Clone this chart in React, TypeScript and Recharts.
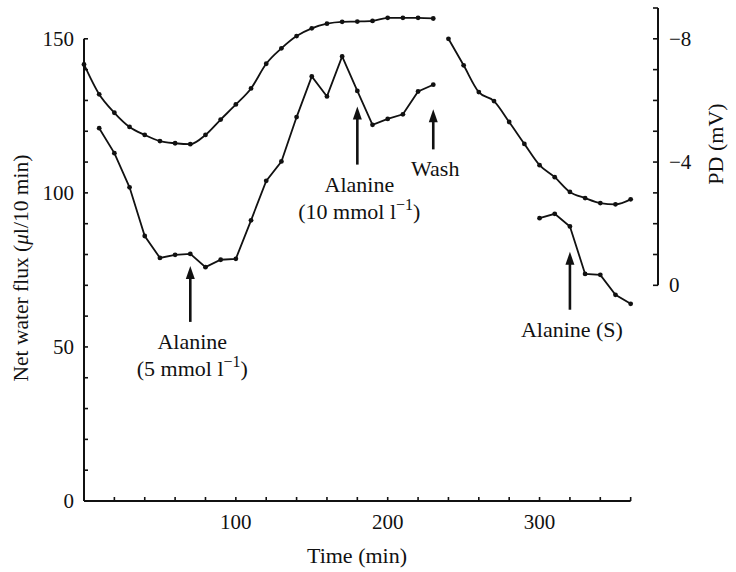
import React from "react";
import {
  ComposedChart,
  Line,
  XAxis,
  YAxis,
  ReferenceLine,
  ReferenceDot,
} from "recharts";

const SERIF = "'Liberation Serif', 'Times New Roman', serif";
const INK = "#111";

// transepithelial PD (mV), before and after the wash
const pdTimeA = [0, 10, 20, 30, 40, 50, 60, 70, 80, 90, 100, 110, 120, 130, 140, 150, 160, 170, 180, 190, 200, 210, 220, 230];
const pdValA = [-7.17, -6.2, -5.6, -5.14, -4.88, -4.68, -4.61, -4.58, -4.88, -5.38, -5.87, -6.39, -7.19, -7.69, -8.09, -8.34, -8.49, -8.55, -8.56, -8.58, -8.68, -8.68, -8.68, -8.66];
const pdTimeB = [240, 250, 260, 270, 280, 290, 300, 310, 320, 330, 340, 350, 360];
const pdValB = [-8.0, -7.14, -6.27, -5.98, -5.3, -4.59, -3.9, -3.51, -3.03, -2.83, -2.67, -2.63, -2.79];

// net water flux (ul / 10 min)
const fluxTimeA = [10, 20, 30, 40, 50, 60, 70, 80, 90, 100, 110, 120, 130, 140, 150, 160, 170, 180, 190, 200, 210, 220, 230];
const fluxValA = [121.0, 112.9, 101.8, 86.0, 78.9, 79.9, 80.2, 75.9, 78.3, 78.6, 91.1, 103.9, 110.2, 124.6, 137.8, 131.3, 144.3, 133.1, 122.1, 124.0, 125.5, 132.9, 135.1];
const fluxTimeB = [300, 310, 320, 330, 340, 350, 360];
const fluxValB = [91.8, 93.2, 89.1, 73.7, 73.4, 66.9, 64.0];

const xTicks = [0, 20, 40, 60, 80, 100, 120, 140, 160, 180, 200, 220, 240, 260, 280, 300, 320, 340, 360];
const xLabels = [100, 200, 300];
const fluxTicks = [0, 10, 20, 30, 40, 50, 60, 70, 80, 90, 100, 110, 120, 130, 140, 150];
const fluxLabels = [0, 50, 100, 150];
const pdTicks = [-9, -8, -7, -6, -5, -4, -3, -2, -1, 0];
const pdLabels = [-8, -4, 0];

// arrows: time, flux value at the arrow tip, label lines
const notes = [
  { t: 70, tip: 76.3, len: 56, lines: ["Alanine", "(5 mmol l|−1|)"] },
  { t: 180, tip: 128.0, len: 58, lines: ["Alanine", "(10 mmol l|−1|)"] },
  { t: 230, tip: 127.1, len: 40, lines: ["Wash"] },
  { t: 320, tip: 80.9, len: 58, lines: ["Alanine (S)"] },
];

const zip = (ts: number[], vs: number[]) => ts.map((t, i) => ({ t, v: vs[i] }));
const pdA = zip(pdTimeA, pdValA);
const pdB = zip(pdTimeB, pdValB);
const fluxA = zip(fluxTimeA, fluxValA);
const fluxB = zip(fluxTimeB, fluxValB);

const minus = (n: number) => (n < 0 ? "\u2212" + Math.abs(n) : String(n));

function NoteText({ x, y, text }: { x: number; y: number; text: string }) {
  const parts = text.split("|");
  return (
    <text x={x} y={y} textAnchor="middle" fontFamily={SERIF} fontSize={22} fill={INK}>
      {parts.length === 1 ? (
        text
      ) : (
        <>
          <tspan>{parts[0]}</tspan>
          <tspan dy={-9} fontSize={16}>{parts[1]}</tspan>
          <tspan dy={9}>{parts[2]}</tspan>
        </>
      )}
    </text>
  );
}

function arrowShape(len: number, lines: string[]) {
  return (p: any) => {
    const { cx, cy } = p;
    return (
      <g>
        <polygon points={`${cx},${cy} ${cx - 4.5},${cy + 13} ${cx + 4.5},${cy + 13}`} fill={INK} />
        <line x1={cx} y1={cy + 10} x2={cx} y2={cy + len} stroke={INK} strokeWidth={2.6} />
        {lines.map((s, i) => (
          <NoteText key={i} x={cx + 2} y={cy + len + 27 + i * 27} text={s} />
        ))}
      </g>
    );
  };
}

const XTick = (p: any) => {
  const axisY = p.y;
  const v = p.payload.value;
  return (
    <g>
      <line x1={p.x} x2={p.x} y1={axisY} y2={axisY - 4} stroke={INK} strokeWidth={1.6} />
      {xLabels.includes(v) && (
        <text x={p.x} y={axisY + 28} textAnchor="middle" fontFamily={SERIF} fontSize={21} fill={INK}>
          {v}
        </text>
      )}
    </g>
  );
};

const LeftTick = (p: any) => {
  const axisX = p.x + 10;
  const v = p.payload.value;
  return (
    <g>
      <line x1={axisX} x2={axisX + 4} y1={p.y} y2={p.y} stroke={INK} strokeWidth={1.6} />
      {fluxLabels.includes(v) && (
        <text x={axisX - 10} y={p.y + 7} textAnchor="end" fontFamily={SERIF} fontSize={21} fill={INK}>
          {v}
        </text>
      )}
    </g>
  );
};

const RightTick = (p: any) => {
  const axisX = p.x - 10;
  const v = p.payload.value;
  return (
    <g>
      <line x1={axisX} x2={axisX - 5} y1={p.y} y2={p.y} stroke={INK} strokeWidth={1.6} />
      {pdLabels.includes(v) && (
        <text x={axisX + 11} y={p.y + 7} textAnchor="start" fontFamily={SERIF} fontSize={21} fill={INK}>
          {minus(v)}
        </text>
      )}
    </g>
  );
};

const dot = { r: 2.4, fill: INK, stroke: INK, strokeWidth: 0 };

export default function App() {
  return (
    <div style={{ position: "absolute", left: 0, top: 0, width: 736, height: 572, background: "#fff" }}>
      <ComposedChart width={736} height={572} margin={{ top: 8, right: 0, bottom: 0, left: 0 }}>
        <XAxis
          dataKey="t"
          type="number"
          domain={[0, 378]}
          ticks={xTicks}
          interval={0}
          height={71}
          axisLine={false}
          tickLine={false}
          tickSize={0}
          tickMargin={0}
          tick={XTick}
          label={{
            content: () => (
              <text x={357} y={563} textAnchor="middle" fontFamily={SERIF} fontSize={22} fill={INK}>
                Time (min)
              </text>
            ),
          }}
        />
        <YAxis
          yAxisId="left"
          type="number"
          domain={[0, 160]}
          ticks={fluxTicks}
          interval={0}
          width={84}
          axisLine={false}
          tickLine={false}
          tickSize={0}
          tickMargin={10}
          tick={LeftTick}
          label={{
            content: () => (
              <text
                x={28}
                y={268}
                transform="rotate(-90 28 268)"
                textAnchor="middle"
                fontFamily={SERIF}
                fontSize={21.5}
                fill={INK}
              >
                Net water flux (<tspan fontStyle="italic">μ</tspan>l/10 min)
              </text>
            ),
          }}
        />
        <YAxis
          yAxisId="right"
          orientation="right"
          type="number"
          reversed
          domain={[-9, 7]}
          ticks={pdTicks}
          interval={0}
          width={78}
          axisLine={false}
          tickLine={false}
          tickSize={0}
          tickMargin={10}
          tick={RightTick}
          label={{
            content: () => (
              <text
                x={723}
                y={144}
                transform="rotate(-90 723 144)"
                textAnchor="middle"
                fontFamily={SERIF}
                fontSize={22}
                fill={INK}
              >
                PD (mV)
              </text>
            ),
          }}
        />
        {/* axis lines only as long as the original */}
        <ReferenceLine yAxisId="left" segment={[{ x: 0, y: 0 }, { x: 360, y: 0 }]} stroke={INK} strokeWidth={2} />
        <ReferenceLine yAxisId="left" segment={[{ x: 0, y: 0 }, { x: 0, y: 150 }]} stroke={INK} strokeWidth={2} />
        <ReferenceLine yAxisId="right" segment={[{ x: 378, y: 0 }, { x: 378, y: -9 }]} stroke={INK} strokeWidth={2} />

        <Line yAxisId="right" data={pdA} dataKey="v" type="monotone" stroke={INK} strokeWidth={1.8} dot={dot} isAnimationActive={false} />
        <Line yAxisId="right" data={pdB} dataKey="v" type="monotone" stroke={INK} strokeWidth={1.8} dot={dot} isAnimationActive={false} />
        <Line yAxisId="left" data={fluxA} dataKey="v" type="linear" stroke={INK} strokeWidth={1.8} dot={dot} isAnimationActive={false} />
        <Line yAxisId="left" data={fluxB} dataKey="v" type="linear" stroke={INK} strokeWidth={1.8} dot={dot} isAnimationActive={false} />

        {notes.map((n) => (
          <ReferenceDot key={n.t} yAxisId="left" x={n.t} y={n.tip} r={0} shape={arrowShape(n.len, n.lines)} />
        ))}
      </ComposedChart>
    </div>
  );
}
